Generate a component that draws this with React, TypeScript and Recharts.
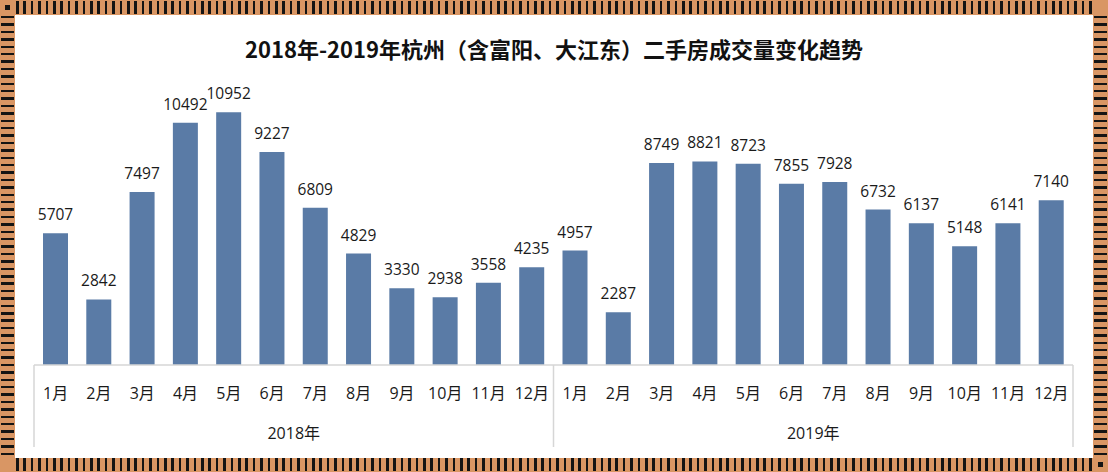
import React from 'react';
import { BarChart, Bar, XAxis, YAxis, LabelList } from 'recharts';

const months = ['1月', '2月', '3月', '4月', '5月', '6月', '7月', '8月', '9月', '10月', '11月', '12月'];
const years = ['2018年', '2019年'];
const sales2018 = [5707, 2842, 7497, 10492, 10952, 9227, 6809, 4829, 3330, 2938, 3558, 4235];
const sales2019 = [4957, 2287, 8749, 8821, 8723, 7855, 7928, 6732, 6137, 5148, 6141, 7140];
const title = '2018年-2019年杭州（含富阳、大江东）二手房成交量变化趋势';

const data = [
  ...months.map((m, i) => ({ key: `${years[0]}-${m}`, month: m, year: years[0], value: sales2018[i] })),
  ...months.map((m, i) => ({ key: `${years[1]}-${m}`, month: m, year: years[1], value: sales2019[i] })),
];

const ORANGE = '#d99664';
const STRIPE = '#141414';
const BAR = '#5a7ba6';
const GRID = '#d6d6d6';
const FONT = '"Open Sans", "Noto Sans CJK SC", sans-serif';

const MonthTick = (props: any) => {
  const { x, y, payload, index } = props;
  const half = payload && payload.offset ? payload.offset : 21.6;
  const d = data[index];
  const lines: any[] = [];
  if (index % 12 === 0) lines.push(x - half);
  if (index === data.length - 1) lines.push(x + half);
  return (
    <g>
      {lines.map((lx, i) => (
        <line key={i} x1={lx} x2={lx} y1={y} y2={y + 82} stroke={GRID} strokeWidth={1.5} />
      ))}
      <text x={x} y={y + 34} textAnchor="middle" fontSize={16} fill="#1a1a1a" fontFamily={FONT}>
        {d ? d.month : payload.value}
      </text>
    </g>
  );
};

const YearTick = (props: any) => {
  const { x, y, payload } = props;
  return (
    <text x={x} y={y - 8} textAnchor="middle" fontSize={16} fill="#1a1a1a" fontFamily={FONT}>
      {payload.value}
    </text>
  );
};

const stripeH = `repeating-linear-gradient(90deg, ${STRIPE} 0px, ${STRIPE} 2.5px, ${ORANGE} 2.5px, ${ORANGE} 7.4px)`;
const stripeV = `repeating-linear-gradient(180deg, ${STRIPE} 0px, ${STRIPE} 2.5px, ${ORANGE} 2.5px, ${ORANGE} 7.4px)`;

export default function App() {
  return (
    <div style={{ position: 'fixed', left: 0, top: 0, width: 1108, height: 472, background: ORANGE, overflow: 'hidden' }}>
      <div style={{ position: 'absolute', left: 16, top: 1, width: 1076, height: 13, background: stripeH }} />
      <div style={{ position: 'absolute', left: 16, top: 458, width: 1076, height: 13, background: stripeH }} />
      <div style={{ position: 'absolute', left: 1, top: 16, width: 13, height: 441, background: stripeV }} />
      <div style={{ position: 'absolute', left: 1094, top: 16, width: 13, height: 441, background: stripeV }} />
      <div style={{ position: 'absolute', left: 5, top: 5, width: 5, height: 5, background: STRIPE }} />
      <div style={{ position: 'absolute', left: 1098, top: 462, width: 5, height: 5, background: STRIPE }} />
      <div style={{ position: 'absolute', left: 15, top: 15, width: 1078, height: 443, background: '#ffffff' }} />
      <div
        style={{
          position: 'absolute',
          left: 0,
          top: 33,
          width: 1108,
          textAlign: 'center',
          fontSize: 22,
          fontWeight: 700,
          color: '#111',
          fontFamily: '"Noto Sans CJK SC", sans-serif',
          lineHeight: '30px',
        }}
      >
        {title}
      </div>
      <div style={{ position: 'absolute', left: 0, top: 0 }}>
        <BarChart width={1108} height={472} data={data} margin={{ top: 88, right: 35, bottom: 0, left: 34 }}>
          <YAxis hide domain={[0, 12000]} />
          <XAxis
            xAxisId="m"
            dataKey="key"
            height={82}
            axisLine={{ stroke: GRID, strokeWidth: 1.5 }}
            tickLine={false}
            tickSize={0}
            tickMargin={0}
            interval={0}
            tick={<MonthTick />}
          />
          <XAxis
            xAxisId="year"
            dataKey="year"
            allowDuplicatedCategory={false}
            height={25}
            axisLine={false}
            tickLine={false}
            tickSize={0}
            tickMargin={0}
            interval={0}
            tick={<YearTick />}
          />
          <Bar xAxisId="m" dataKey="value" fill={BAR} barSize={25} isAnimationActive={false}>
            <LabelList dataKey="value" position="top" offset={13} fontSize={15.5} fill="#1a1a1a" fontFamily={FONT} />
          </Bar>
        </BarChart>
      </div>
    </div>
  );
}
